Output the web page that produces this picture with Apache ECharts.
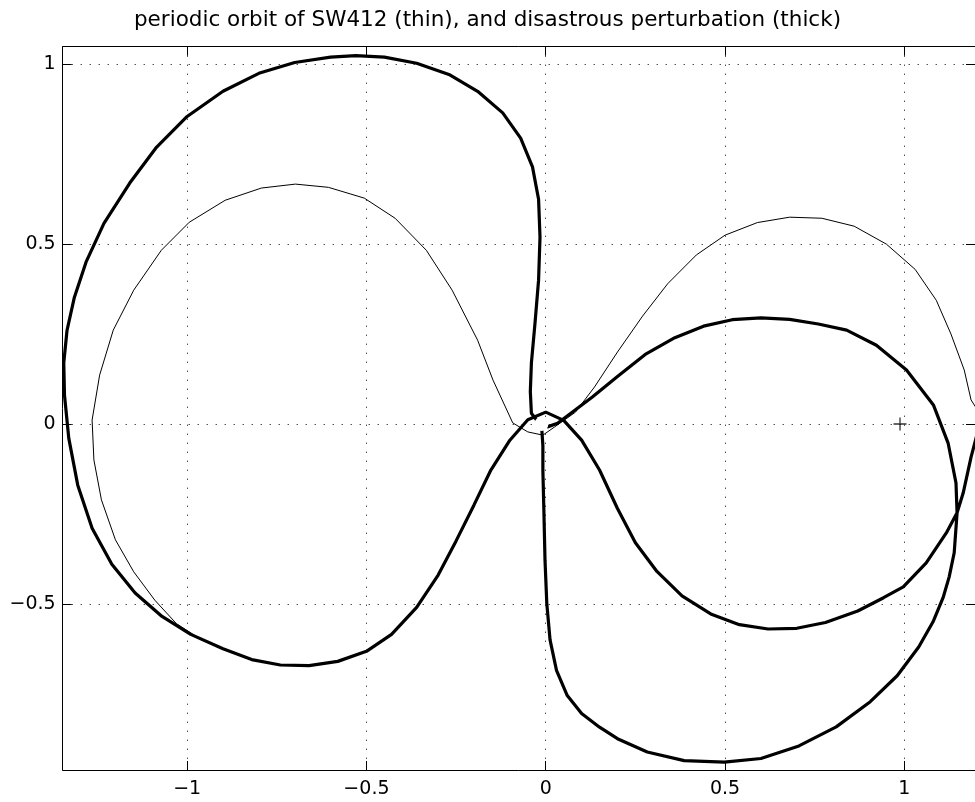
<!DOCTYPE html>
<html><head><meta charset="utf-8">
<script src="https://cdn.jsdelivr.net/npm/echarts@6/dist/echarts.min.js"></script>
<style>html,body{margin:0;padding:0;background:#fff}#c{width:975px;height:802px}</style>
</head><body><div id="c"></div>
<script>
const titleText = 'periodic orbit of SW412 (thin), and disastrous perturbation (thick)';
const xTicks = [-1, -0.5, 0, 0.5, 1];
const yTicks = [-0.5, 0, 0.5, 1];
const xRange = [-1.347, 1.197];
const yRange = [-0.962, 1.049];

const thinOrbit = [
  [-0.147,0.122],[-0.19,0.233],[-0.261,0.372],[-0.333,0.483],[-0.42,0.572],[-0.506,0.628],
  [-0.606,0.658],[-0.698,0.667],[-0.793,0.656],[-0.894,0.622],[-0.994,0.561],[-1.072,0.483],
  [-1.149,0.372],[-1.206,0.261],[-1.244,0.136],[-1.265,0.011],[-1.26,-0.1],[-1.239,-0.211],
  [-1.2,-0.322],[-1.149,-0.411],[-1.09,-0.49],[-1.03,-0.555],[-0.96,-0.6],[-0.9,-0.625],
  [-0.82,-0.655],[-0.74,-0.67],[-0.66,-0.672],[-0.58,-0.66],[-0.5,-0.632],[-0.43,-0.585],
  [-0.36,-0.51],[-0.3,-0.42],[-0.25,-0.325],[-0.2,-0.225],[-0.153,-0.128],[-0.1,-0.045],
  [-0.05,0.012],[0,0.033],[0.05,0.01],[0.1,-0.045],[0.15,-0.128],[0.2,-0.235],[0.25,-0.33],
  [0.31,-0.41],[0.38,-0.478],[0.46,-0.528],[0.54,-0.558],[0.62,-0.57],[0.7,-0.568],
  [0.78,-0.552],[0.87,-0.52],[0.942,-0.483],[0.997,-0.453],[1.061,-0.386],[1.117,-0.303],
  [1.147,-0.247],[1.164,-0.192],[1.186,-0.092],[1.205,-0.02],[1.21,0.02],[1.2,0.045],
  [1.186,0.067],[1.167,0.15],[1.13,0.25],[1.089,0.344],[1.03,0.43],[0.95,0.5],[0.86,0.55],
  [0.77,0.572],[0.68,0.575],[0.59,0.56],[0.5,0.525],[0.42,0.47],[0.34,0.39],[0.27,0.3],
  [0.2,0.2],[0.136,0.103],[0.083,0.033],[0.025,-0.008],[-0.008,-0.031],[-0.05,-0.022],
  [-0.092,0.003],[-0.147,0.122]
];

const thickOrbit = [
  [1.23,0.08],[1.205,-0.02],[1.186,-0.092],[1.164,-0.192],[1.147,-0.247],[1.117,-0.303],
  [1.061,-0.386],[0.997,-0.453],[0.942,-0.483],[0.87,-0.52],[0.78,-0.552],[0.7,-0.568],
  [0.62,-0.57],[0.54,-0.558],[0.46,-0.528],[0.38,-0.478],[0.31,-0.41],[0.25,-0.33],
  [0.2,-0.235],[0.15,-0.128],[0.1,-0.045],[0.05,0.01],[0,0.033],[-0.05,0.012],[-0.1,-0.045],
  [-0.153,-0.128],[-0.2,-0.225],[-0.25,-0.325],[-0.3,-0.42],[-0.36,-0.51],[-0.43,-0.585],
  [-0.5,-0.632],[-0.58,-0.66],[-0.66,-0.672],[-0.74,-0.67],[-0.82,-0.655],[-0.9,-0.625],
  [-0.99,-0.585],[-1.07,-0.535],[-1.145,-0.47],[-1.21,-0.39],[-1.265,-0.29],[-1.305,-0.17],
  [-1.33,-0.04],[-1.342,0.08],[-1.344,0.17],[-1.335,0.26],[-1.315,0.35],[-1.282,0.45],
  [-1.232,0.558],[-1.16,0.67],[-1.085,0.77],[-1,0.855],[-0.9,0.925],[-0.8,0.975],
  [-0.7,1.005],[-0.6,1.02],[-0.53,1.024],[-0.45,1.02],[-0.36,1.003],[-0.27,0.972],
  [-0.19,0.925],[-0.12,0.865],[-0.07,0.795],[-0.037,0.715],[-0.02,0.625],[-0.016,0.52],
  [-0.02,0.4],[-0.03,0.28],[-0.04,0.17],[-0.043,0.09],[-0.04,0.03],[-0.025,0.01],[-0.012,0],
  [-0.008,-0.06],[-0.008,-0.128],[-0.005,-0.25],[-0.002,-0.38],[0.003,-0.5],[0.012,-0.6],
  [0.03,-0.685],[0.06,-0.755],[0.1,-0.805],[0.15,-0.843],[0.2,-0.875],[0.283,-0.912],
  [0.386,-0.936],[0.498,-0.94],[0.6,-0.93],[0.706,-0.895],[0.81,-0.842],[0.905,-0.772],
  [0.98,-0.7],[1.04,-0.62],[1.08,-0.55],[1.108,-0.483],[1.125,-0.425],[1.139,-0.358],
  [1.147,-0.247],[1.144,-0.164],[1.122,-0.053],[1.081,0.053],[1.006,0.15],[0.922,0.219],
  [0.839,0.261],[0.76,0.278],[0.68,0.291],[0.6,0.295],[0.52,0.29],[0.44,0.272],[0.36,0.24],
  [0.28,0.195],[0.2,0.132],[0.13,0.075],[0.07,0.03],[0.033,0.002],[0.005,-0.008],[-0.012,0]
];

const earth = [[-0.0121, 0]];
const moon = [[0.9879, 0]];

const FONT = '"DejaVu Sans", Verdana, sans-serif';
const fmt = v => (v < 0 ? '\u2212' : '') + Math.abs(v);
const plusPath = 'path://M0,5.4H12V6.6H0Z M5.4,0H6.6V12H5.4Z';

function axisCommon(ticks, showLabel) {
  return {
    type: 'value',
    axisLine: { show: true, onZero: false, lineStyle: { color: '#000', width: 1 } },
    axisTick: { show: true, inside: true, length: 9, customValues: ticks,
      lineStyle: { color: '#000', width: 1 } },
    axisLabel: { show: showLabel, customValues: ticks, formatter: fmt, color: '#000',
      fontSize: 19, fontFamily: FONT },
    splitLine: { show: false },
    splitArea: { show: false }
  };
}

const chart = echarts.init(document.getElementById('c'), null, { renderer: 'canvas' });
const xb = axisCommon(xTicks, true);
xb.position = 'bottom'; xb.min = xRange[0]; xb.max = xRange[1];
xb.axisLabel.margin = 10;
xb.splitLine = { show: true, lineStyle: { color: '#000', width: 1, type: [1, 8] } };
const xt = axisCommon(xTicks, false);
xt.position = 'top'; xt.min = xRange[0]; xt.max = xRange[1];
const yl = axisCommon(yTicks, true);
yl.position = 'left'; yl.min = yRange[0]; yl.max = yRange[1];
yl.axisLabel.margin = 7;
yl.splitLine = { show: true, lineStyle: { color: '#000', width: 1, type: [1, 8] } };
const yr = axisCommon(yTicks, false);
yr.position = 'right'; yr.min = yRange[0]; yr.max = yRange[1];

chart.setOption({
  animation: false,
  backgroundColor: '#fff',
  title: {
    text: titleText, left: 'center', top: 9, padding: [0, 0, 0, 69],
    textStyle: { fontSize: 21.5, fontWeight: 'normal', color: '#000', fontFamily: FONT }
  },
  grid: { left: 62.7, right: -4, top: 46.7, bottom: 32, containLabel: false },
  xAxis: [xb, xt],
  yAxis: [yl, yr],
  series: [
    { type: 'line', data: thinOrbit, showSymbol: false, symbol: 'none',
      lineStyle: { color: '#000', width: 1 }, z: 3 },
    { type: 'line', data: thickOrbit, showSymbol: false, symbol: 'none',
      lineStyle: { color: '#000', width: 3.2 }, z: 4 },
    { type: 'scatter', data: earth, symbol: 'emptyCircle', symbolSize: 14,
      itemStyle: { color: 'rgba(0,0,0,0)', borderColor: '#000', borderWidth: 1, opacity: 1 }, z: 6 },
    { type: 'scatter', data: moon, symbol: plusPath, symbolSize: 13,
      itemStyle: { color: '#000' }, z: 5 }
  ]
});
</script></body></html>
